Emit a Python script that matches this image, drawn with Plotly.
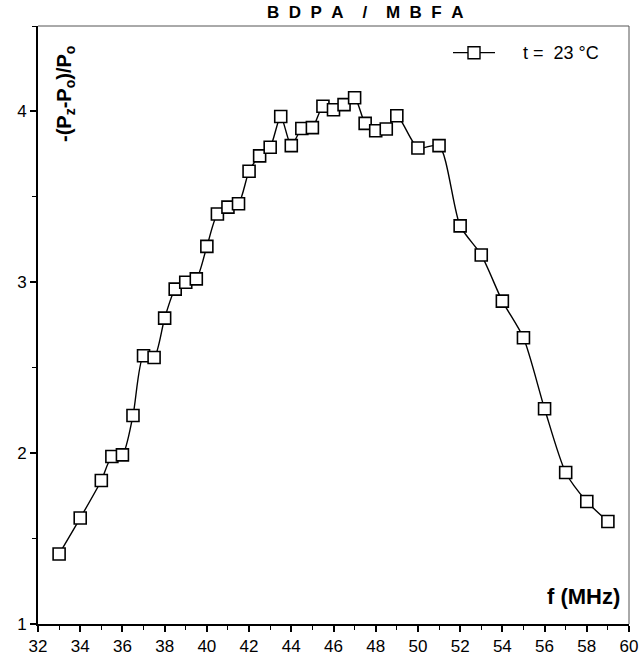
import plotly.graph_objects as go

# Data
freq_mhz = [33, 34, 35, 35.5, 36, 36.5, 37, 37.5, 38, 38.5, 39, 39.5, 40, 40.5, 41, 41.5,
            42, 42.5, 43, 43.5, 44, 44.5, 45, 45.5, 46, 46.5, 47, 47.5, 48, 48.5, 49,
            50, 51, 52, 53, 54, 55, 56, 57, 58, 59]
enhancement = [1.41, 1.62, 1.84, 1.98, 1.99, 2.22, 2.57, 2.56, 2.79, 2.96, 3.00, 3.02, 3.21,
               3.40, 3.44, 3.46, 3.65, 3.74, 3.79, 3.97, 3.80, 3.90, 3.905, 4.03, 4.01, 4.04,
               4.08, 3.93, 3.887, 3.897, 3.975, 3.786, 3.80, 3.33, 3.16, 2.89, 2.675, 2.26,
               1.887, 1.717, 1.60]
x_ticks = [32, 34, 36, 38, 40, 42, 44, 46, 48, 50, 52, 54, 56, 58, 60]
y_ticks = [1, 2, 3, 4]
series_name = "t = 23 °C"

W, H = 641, 669
ML, MR, MT, MB = 38, 12, 26, 45
PW, PH = W - ML - MR, H - MT - MB


def px(xp):
    return (xp - ML) / PW


def py(yp):
    return (H - MB - yp) / PH


FONT = "Liberation Sans, Arial, sans-serif"

fig = go.Figure()
fig.add_trace(go.Scatter(
    x=freq_mhz, y=enhancement, mode="lines+markers",
    name=series_name, showlegend=False,
    line=dict(color="black", width=1.4, shape="spline", smoothing=0.7),
    marker=dict(symbol="square", size=12, color="white",
                line=dict(color="black", width=1.6)),
))

shapes = [
    dict(type="line", xref="paper", yref="paper", x0=0, x1=1, y0=1, y1=1,
         line=dict(color="#555555", width=1)),
    dict(type="line", xref="paper", yref="paper", x0=1, x1=1, y0=0, y1=1,
         line=dict(color="#555555", width=1)),
    dict(type="line", xref="paper", yref="paper", x0=px(453), x1=px(495),
         y0=py(52.7), y1=py(52.7), line=dict(color="black", width=1.3)),
    dict(type="rect", xref="paper", yref="paper", x0=px(468), x1=px(480),
         y0=py(58.7), y1=py(46.7), fillcolor="white",
         line=dict(color="black", width=1.4)),
]

sp = "&nbsp;&nbsp;"
title_html = "<b>" + sp.join(["B", "D", "P", "A"]) + sp * 2 + "/" + sp * 2 + sp.join(["M", "B", "F", "A"]) + "</b>"
legend_html = "t&nbsp;=&nbsp;&nbsp;23&nbsp;°C"

annotations = [
    dict(text=title_html, xref="paper", yref="paper", x=px(365), y=py(13),
         xanchor="center", yanchor="middle", showarrow=False,
         font=dict(family=FONT, size=17, color="black")),
    dict(text="<b>-(P<sub>z</sub>-P<sub>o</sub>)/P<sub>o</sub></b>", xref="paper", yref="paper",
         x=px(65), y=py(94), xanchor="center", yanchor="middle", textangle=-90,
         showarrow=False, font=dict(family=FONT, size=20, color="black")),
    dict(text="<b>f (MHz)</b>", xref="paper", yref="paper", x=px(622), y=py(596),
         xanchor="right", yanchor="middle", showarrow=False,
         font=dict(family=FONT, size=22, color="black")),
    dict(text=legend_html, xref="paper", yref="paper", x=px(521), y=py(52.7),
         xanchor="left", yanchor="middle", showarrow=False,
         font=dict(family=FONT, size=18, color="black")),
]

fig.update_layout(
    width=W, height=H,
    margin=dict(l=ML, r=MR, t=MT, b=MB, autoexpand=False),
    paper_bgcolor="white", plot_bgcolor="white",
    showlegend=False,
    shapes=shapes, annotations=annotations,
    font=dict(family=FONT, size=17, color="black"),
    xaxis=dict(range=[32, 60], tickvals=x_ticks, ticktext=[str(v) for v in x_ticks],
               automargin=False,
               showgrid=False, zeroline=False, showline=True, linecolor="black", linewidth=1.6,
               ticks="outside", ticklen=6, tickwidth=1.5, tickcolor="black",
               minor=dict(dtick=1, ticks="outside", ticklen=4, tickwidth=1.2, tickcolor="black"),
               tickfont=dict(family=FONT, size=17, color="black")),
    yaxis=dict(range=[1, 4.5], tickvals=y_ticks, ticktext=[str(v) for v in y_ticks],
               automargin=False,
               showgrid=False, zeroline=False, showline=True, linecolor="black", linewidth=2,
               ticks="outside", ticklen=6, tickwidth=1.5, tickcolor="black",
               minor=dict(dtick=0.5, ticks="outside", ticklen=4, tickwidth=1.2, tickcolor="black"),
               tickfont=dict(family=FONT, size=17, color="black")),
)

fig.write_html("out.html", config={"displayModeBar": False},
               post_script="document.body.style.margin='0px';")
